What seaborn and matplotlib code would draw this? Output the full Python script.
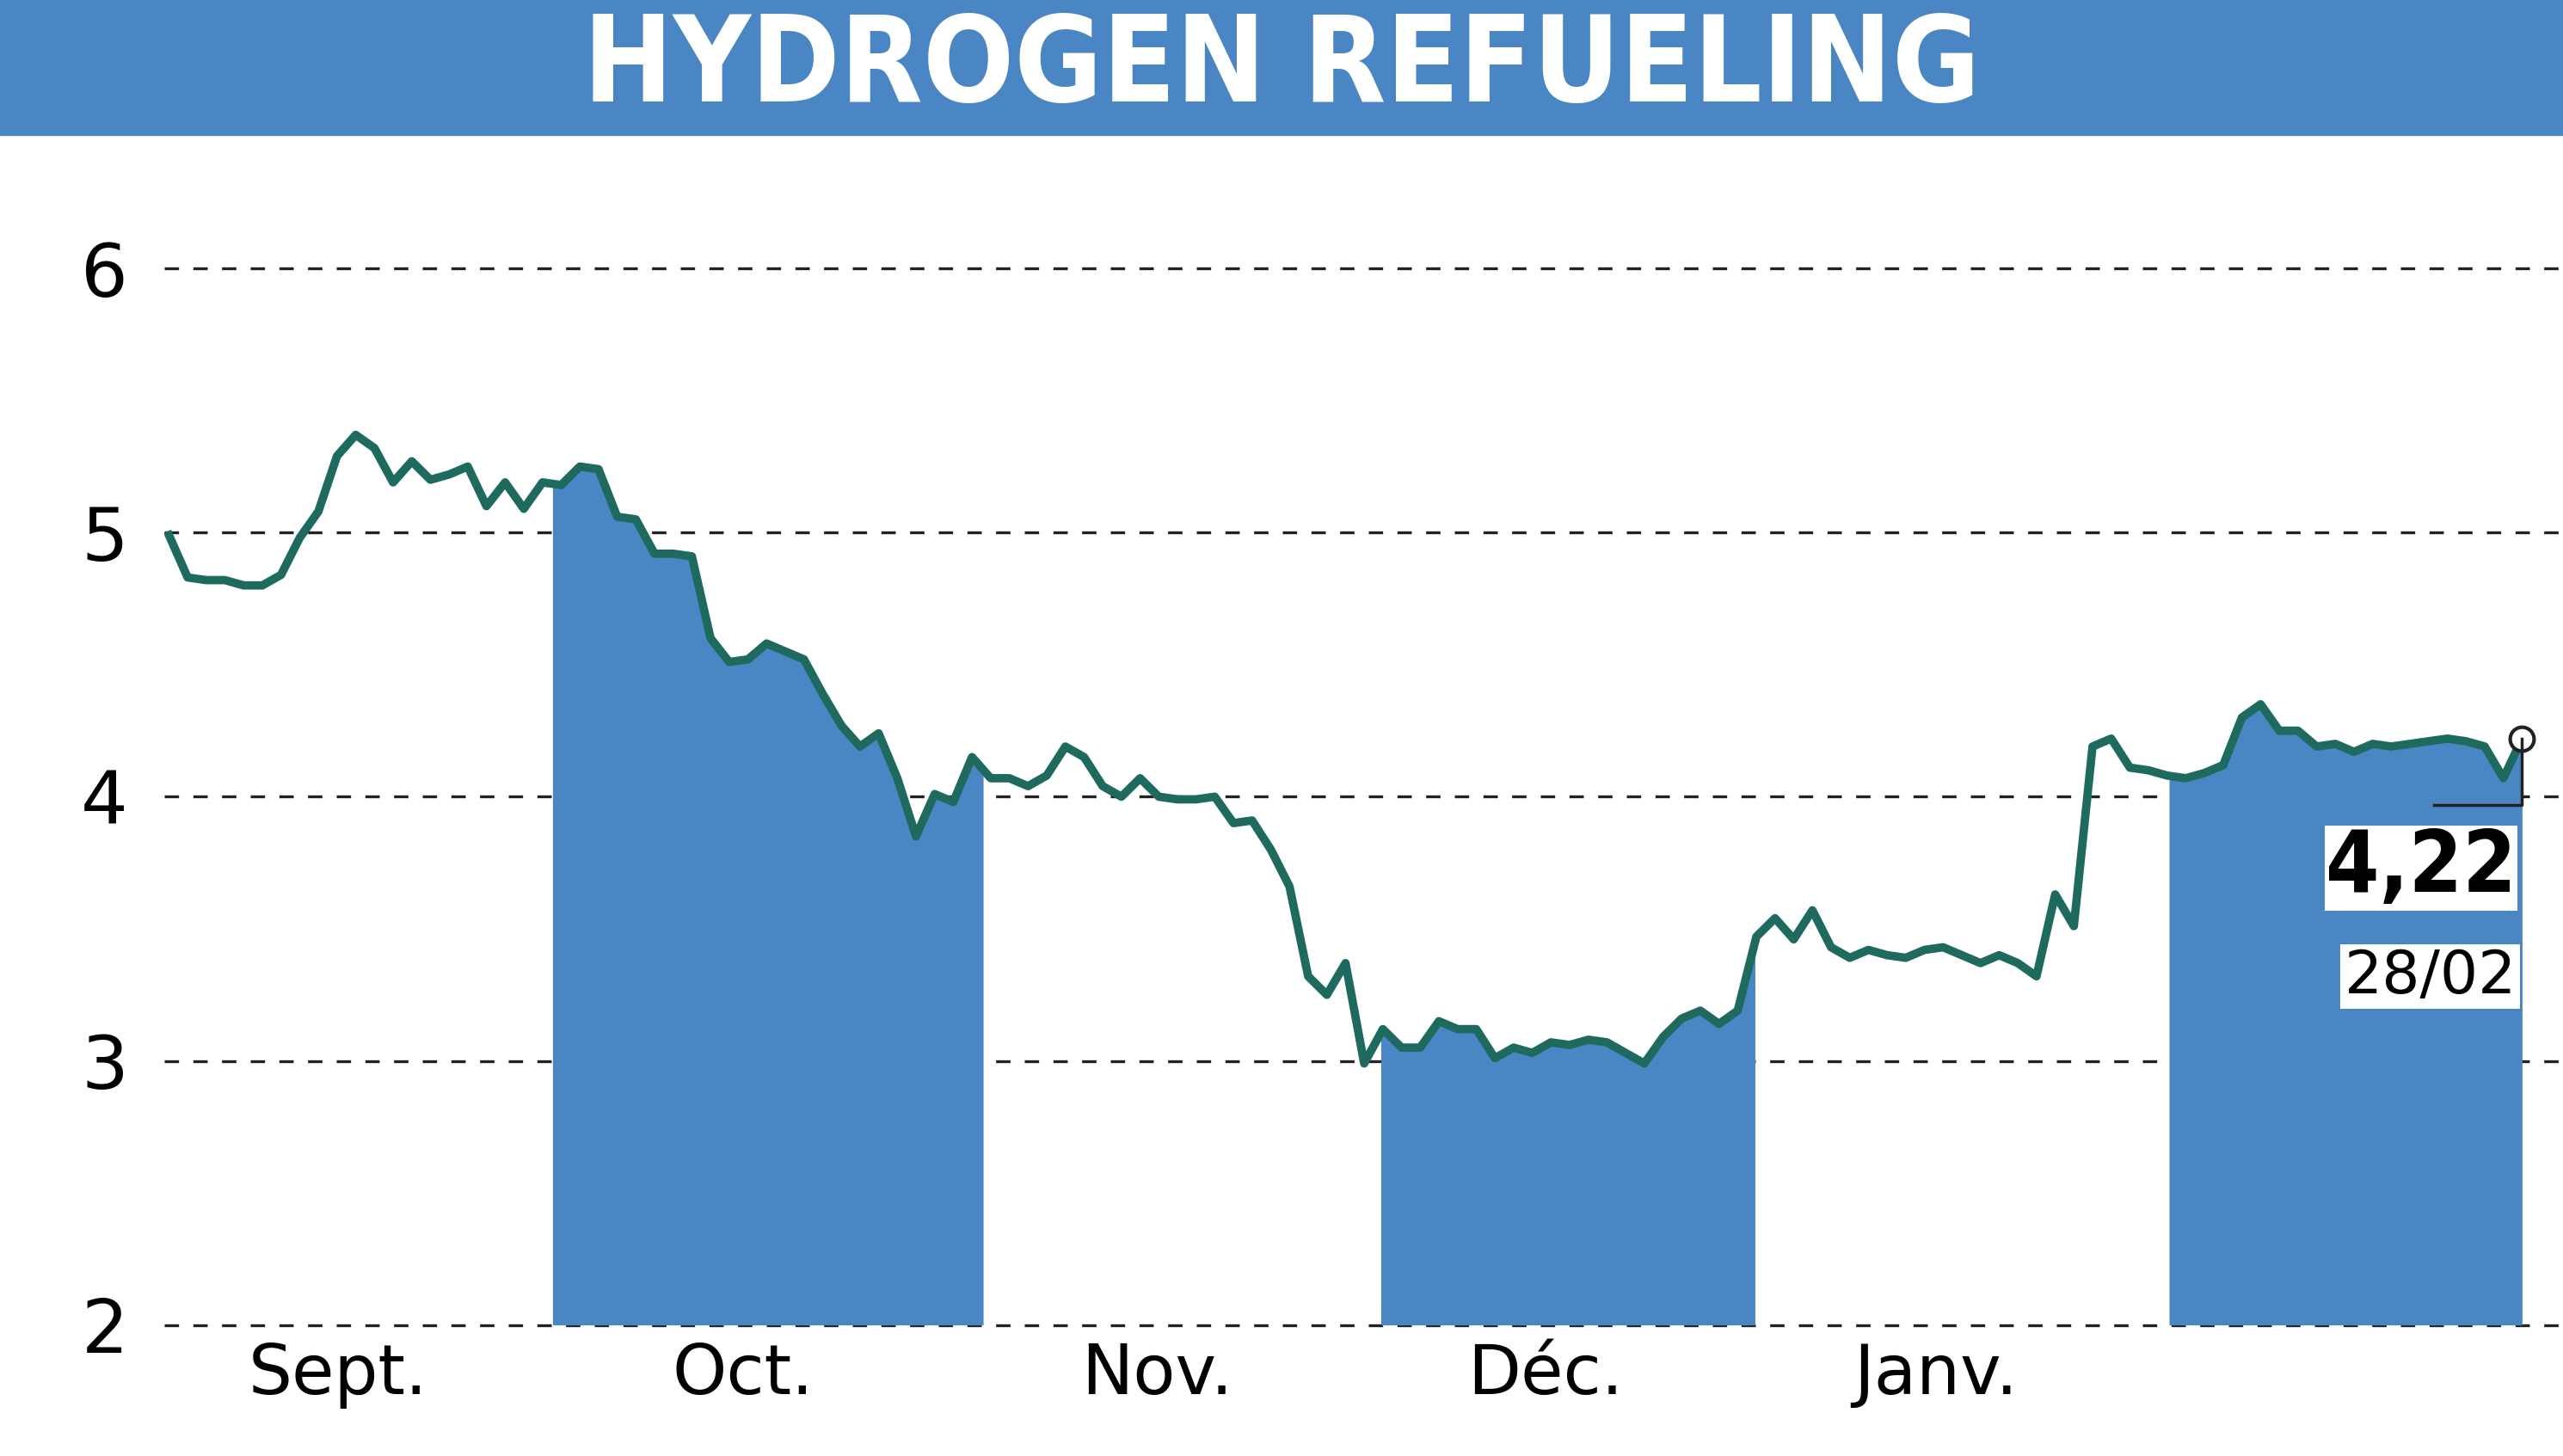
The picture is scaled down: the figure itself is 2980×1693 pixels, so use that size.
import matplotlib
matplotlib.use("Agg")
import matplotlib.pyplot as plt
import seaborn as sns
import numpy as np
import pandas as pd

title = "HYDROGEN REFUELING"
prices = [4.99,4.83,4.82,4.82,4.80,4.80,4.84,4.98,5.08,5.29,5.37,5.32,5.19,5.27,5.20,5.22,5.25,5.10,5.19,5.09,5.19,5.18,5.25,5.24,5.06,5.05,4.92,4.92,4.91,4.60,4.51,4.52,4.58,4.55,4.52,4.39,4.27,4.19,4.24,4.07,3.85,4.01,3.98,4.15,4.07,4.07,4.04,4.08,4.19,4.15,4.04,4.00,4.07,4.00,3.99,3.99,4.00,3.90,3.91,3.80,3.66,3.32,3.25,3.37,2.99,3.12,3.05,3.05,3.15,3.12,3.12,3.01,3.05,3.03,3.07,3.06,3.08,3.07,3.03,2.99,3.09,3.16,3.19,3.14,3.19,3.47,3.54,3.46,3.57,3.43,3.39,3.42,3.40,3.39,3.42,3.43,3.40,3.37,3.40,3.37,3.32,3.63,3.51,4.19,4.22,4.11,4.10,4.08,4.07,4.09,4.12,4.30,4.35,4.25,4.25,4.19,4.20,4.17,4.20,4.19,4.20,4.21,4.22,4.21,4.19,4.07,4.22]
months = ["Sept.", "Oct.", "Nov.", "Déc.", "Janv."]
# fractions of the plotted span (0 = first point, 1 = last point)
month_label_frac = [0.072, 0.244, 0.420, 0.585, 0.751]
month_start_frac = [0.163, 0.346, 0.515, 0.674, 0.850]
yticks = [2, 3, 4, 5, 6]
last_value = "4,22"
last_date = "28/02"

font = "DejaVu Sans"
blue = "#4a86c3"
line_c = "#1f6a5f"

n = len(prices)
span = n - 1
df = pd.DataFrame({"i": np.arange(n), "p": prices})
fig = plt.figure(figsize=(29.8, 16.93), dpi=100)
fig.patches.append(plt.Rectangle((0, 0.907), 1, 0.093, transform=fig.transFigure, color=blue, zorder=0))
fig.text(0.5, 0.953, title, ha="center", va="center", color="white", fontsize=100,
         fontweight="bold", family=font, fontstretch="condensed")

ax = fig.add_axes([0.064, 0.09, 0.936, 0.80])
ax.set_xlim(-0.0021 * span, 1.0174 * span)
ax.set_ylim(2, 6.41)
x = df["i"].values.astype(float); y = df["p"].values
ms = [f * span for f in month_start_frac]
bands = [(ms[0], ms[1]), (ms[2], ms[3]), (ms[4], x[-1])]
for s, e in bands:
    xs = np.concatenate([[s], x[(x > s) & (x < e)], [e]])
    ys = np.interp(xs, x, y)
    ax.fill_between(xs, 2, ys, color=blue, lw=0, zorder=1)
for t in yticks:
    ax.axhline(t, color="#222222", lw=2.4, ls=(0, (5, 5)), zorder=0.5, clip_on=False)
sns.lineplot(data=df, x="i", y="p", ax=ax, color=line_c, lw=7, zorder=3)
ax.plot([x[-1]], [y[-1]], "o", ms=20, mfc="white", mec="#222222", mew=3, zorder=4, clip_on=False)
ax.plot([x[-1] - 4.7, x[-1], x[-1]], [3.97, 3.97, y[-1]], color="#222222", lw=2.5, zorder=4)
ax.text(x[-1] - 0.3, 3.73, last_value, ha="right", va="center", fontsize=72, fontweight="bold",
        family=font, fontstretch="condensed", bbox=dict(fc="white", ec="none", pad=1), zorder=5)
ax.text(x[-1] - 0.3, 3.32, last_date, ha="right", va="center", fontsize=50,
        family=font, bbox=dict(fc="white", ec="none", pad=3), zorder=5)
for sp in ax.spines.values():
    sp.set_visible(False)
ax.set_yticks(yticks)
ax.set_yticklabels([str(t) for t in yticks], fontsize=62, family=font)
ax.set_xticks([f * span for f in month_label_frac])
ax.set_xticklabels(months, fontsize=58, family=font)
ax.tick_params(length=0, pad=14)
ax.tick_params(axis="y", pad=30)
ax.set_xlabel(""); ax.set_ylabel("")
fig.savefig("out.png", dpi=100)
